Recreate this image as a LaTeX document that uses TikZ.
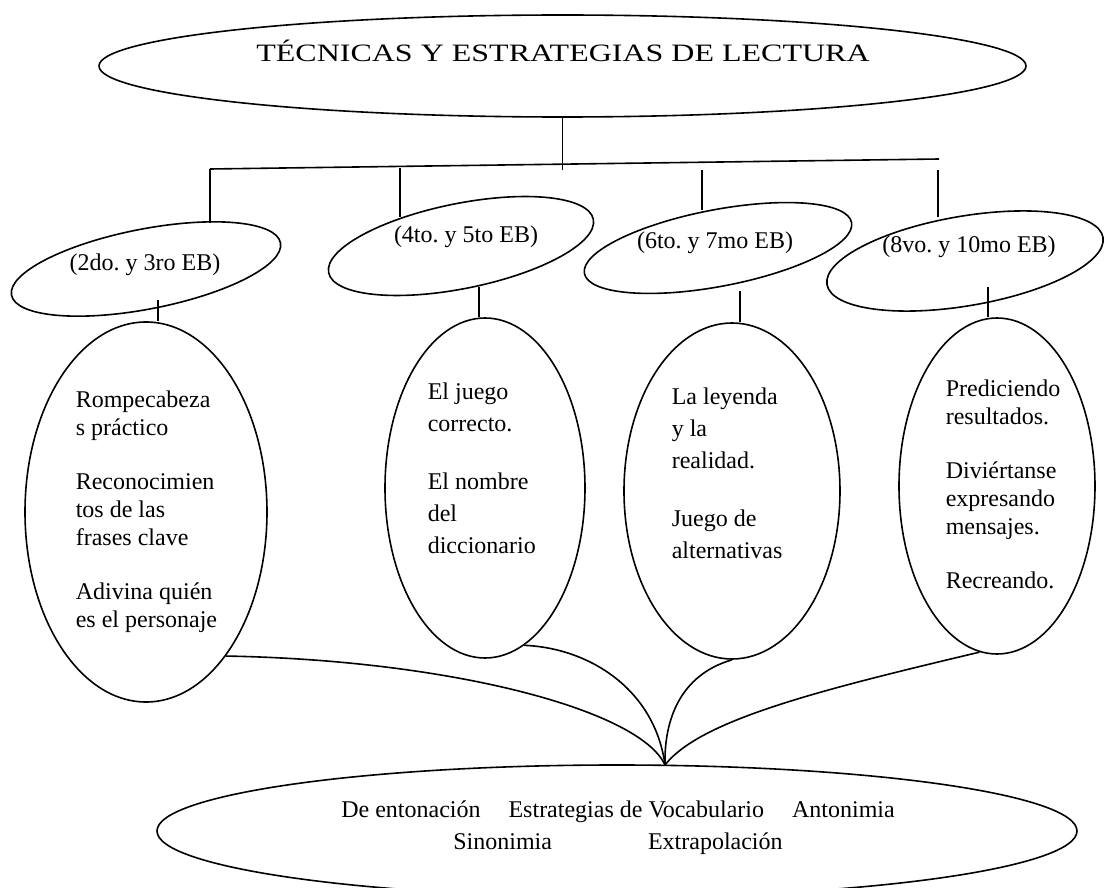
\documentclass[tikz,border=0pt]{standalone}
\usepackage{fontspec}
\setmainfont{Liberation Serif}
\usetikzlibrary{shapes.geometric,positioning}
\frenchspacing

\begin{document}
\begin{tikzpicture}[x=0.5pt,y=-0.5pt,line width=0.8pt,
    every node/.style={font=\fontsize{12}{14}\selectfont},
    oval/.style={draw,ellipse,inner sep=0pt},
    words/.style={align=left,inner sep=0pt,anchor=west}]

\useasboundingbox (0,0) rectangle (1105,888);
\clip (0,0) rectangle (1105,888);

\newcommand\gradeoval[6]
{
    \node[oval,rotate=#5,minimum width=#3pt,minimum height=#4pt] (#1) at (#2) {};
    \node (#1txt) at (#6) {\csname grade#1\endcsname};
}
\def\gradegtwo{(2do. y 3ro EB)}
\def\gradegfour{(4to. y 5to EB)}
\def\gradegsix{(6to. y 7mo EB)}
\def\gradegeight{(8vo. y 10mo EB)}

% title
\node[oval,minimum width=463.5pt,minimum height=51pt] (title) at (562.5,66) {};
\node (titletxt) [anchor=base] at (563,62) {\fontsize{12.5}{15}\selectfont\scalebox{1.28}[1]{TÉCNICAS Y ESTRATEGIAS DE LECTURA}};

\coordinate (busL) at (210,169);
\coordinate (busR) at (939,159);
\coordinate (d4) at (400,168);
\coordinate (d6) at (702,170);
\coordinate (d8) at (938,170);
\draw (title.south) -- ++(0,52);
\draw (busL) -- (busR);

% grades
\gradeoval{gtwo}{146,269}{137}{40}{11}{145,265}
\gradeoval{gfour}{461,246}{135}{42.5}{11.4}{466,237}
\gradeoval{gsix}{718,248}{136}{38.3}{10.8}{715,243}
\gradeoval{geight}{965,261}{140}{44.8}{9.7}{969,247}

\draw (busL) -- ++(0,54);
\draw (d4) -- ++(0,49);
\draw (d6) -- ++(0,40);
\draw (d8) -- ++(0,47);

% techniques
\node[oval,minimum width=121pt,minimum height=190pt] (ptwo) at (146,512) {};
\node[oval,minimum width=100pt,minimum height=170pt] (pfour) at (485,488) {};
\node[oval,minimum width=108pt,minimum height=168pt] (psix) at (732,491) {};
\node[oval,minimum width=98pt,minimum height=168pt] (peight) at (997,486) {};

\draw (ptwo.north) ++(12,0) -- ++(0,-21);
\draw (pfour.north) ++(-6,0) -- ++(0,-30);
\draw (psix.north) ++(8,0) -- ++(0,-31);
\draw (peight.north) ++(-9,0) -- ++(0,-30);

\node[words] (ptwotxt) at (75,512) {Rompecabeza\\s práctico\\[13pt]Reconocimien\\tos de las\\frases clave\\[13pt]Adivina quién\\es el personaje};
\node[words,font=\fontsize{12}{16}\selectfont] (pfourtxt) at (427,468) {El juego\\correcto.\\[13pt]El nombre\\del\\diccionario};
\node[words,font=\fontsize{12}{16}\selectfont] (psixtxt) at (671,473) {La leyenda\\y la\\realidad.\\[13pt]Juego de\\alternativas};
\node[words] (peighttxt) at (945,484) {Prediciendo\\resultados.\\[13pt]Diviértanse\\expresando\\mensajes.\\[13pt]Recreando.};

% strategies
\node[oval,minimum width=460pt,minimum height=66pt] (base) at (617,831) {};
\node[align=center,font=\fontsize{12}{16}\selectfont] (basetxt) at (618,828) {De entonación\hspace{14pt}Estrategias de Vocabulario\hspace{14pt}Antonimia\\Sinonimia\hspace{48pt}Extrapolación};

\coordinate (join) at (665,765);
\draw (ptwo.-61.7) .. controls (450,660) and (640,710) .. (join);
\draw (pfour.-76.6) .. controls (590,648) and (655,690) .. (join);
\draw (psix.south) .. controls (680,675) and (664,720) .. (join);
\draw (peight.264.3) .. controls (820,690) and (700,720) .. (join);

\end{tikzpicture}
\end{document}
